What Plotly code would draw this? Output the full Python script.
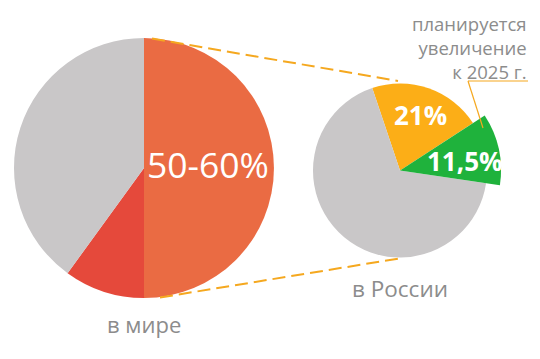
import plotly.graph_objects as go

# data
world_labels = ["50-60%", "other segment", "rest"]
world_values = [50, 10, 40]
world_colors = ["#EA6B43", "#E5493B", "#C9C7C8"]

russia_labels = ["21%", "11,5%", "rest"]
russia_values = [21, 11.5, 67.5]
russia_colors = ["#FCAE17", "rgba(0,0,0,0)", "#C9C7C8"]
russia_plan_colors = ["rgba(0,0,0,0)", "#1FB23C", "rgba(0,0,0,0)"]

W, H = 540, 359
OFF = 8  # page body margin offset
def px_x(x):
    return (x - OFF) / W
def px_y(y):
    return 1 - (y - OFF) / H

fig = go.Figure()

# left pie
fig.add_trace(go.Pie(
    labels=world_labels, values=world_values, sort=False, direction="clockwise",
    rotation=0, marker=dict(colors=world_colors, line=dict(width=0)),
    textinfo="none", hoverinfo="label+value", showlegend=False,
    domain=dict(x=[px_x(14), px_x(274)], y=[px_y(298), px_y(38)]),
))

# right pie (base)
fig.add_trace(go.Pie(
    labels=russia_labels, values=russia_values, sort=False, direction="clockwise",
    rotation=-18.6, marker=dict(colors=russia_colors, line=dict(width=0)),
    textinfo="none", hoverinfo="label+value", showlegend=False,
    domain=dict(x=[px_x(313), px_x(487)], y=[px_y(257.5), px_y(83.5)]),
))

# right pie planned (larger green slice)
fig.add_trace(go.Pie(
    labels=russia_labels, values=russia_values, sort=False, direction="clockwise",
    rotation=-18.6, marker=dict(colors=russia_plan_colors, line=dict(width=0)),
    textinfo="none", hoverinfo="skip", showlegend=False,
    domain=dict(x=[px_x(299), px_x(501)], y=[px_y(271.5), px_y(69.5)]),
))

line_color = "#F5A81F"
shapes = [
    dict(type="line", xref="paper", yref="paper", x0=px_x(152), y0=px_y(38.5),
         x1=px_x(398), y1=px_y(81), line=dict(color=line_color, width=2, dash="13px,6px")),
    dict(type="line", xref="paper", yref="paper", x0=px_x(160), y0=px_y(297.5),
         x1=px_x(402), y1=px_y(258), line=dict(color=line_color, width=2, dash="13px,6px")),
    dict(type="line", xref="paper", yref="paper", x0=px_x(483), y0=px_y(128),
         x1=px_x(468), y1=px_y(81), line=dict(color=line_color, width=1.2)),
    dict(type="line", xref="paper", yref="paper", x0=px_x(468), y0=px_y(81),
         x1=px_x(528), y1=px_y(81), line=dict(color=line_color, width=1.2)),
]

font = "Open Sans"
annotations = [
    dict(text="50-60%", x=px_x(208), y=px_y(164), font=dict(family=font, size=35.5, color="white")),
    dict(text="<b>21%</b>", x=px_x(420), y=px_y(115), font=dict(family=font, size=26, color="white")),
    dict(text="<b>11,5%</b>", x=px_x(464), y=px_y(161), font=dict(family=font, size=26, color="white")),
    dict(text="в мире", x=px_x(144), y=px_y(324), font=dict(family=font, size=22, color="#8C8C8C")),
    dict(text="в России", x=px_x(400), y=px_y(288), font=dict(family=font, size=22.5, color="#8C8C8C")),
    dict(text="планируется<br>увеличение<br>к 2025 г.", x=px_x(529), y=px_y(47), xanchor="right",
         align="right", font=dict(family=font, size=18.5, color="#8C8C8C")),
]
for a in annotations:
    a.setdefault("xref", "paper")
    a.setdefault("yref", "paper")
    a.setdefault("showarrow", False)
    a.setdefault("xanchor", "center")
    a.setdefault("yanchor", "middle")

fig.update_layout(
    width=W, height=H, margin=dict(l=0, r=0, t=0, b=0),
    paper_bgcolor="white", plot_bgcolor="white",
    shapes=shapes, annotations=annotations, showlegend=False,
)

fig.write_html("out.html")
